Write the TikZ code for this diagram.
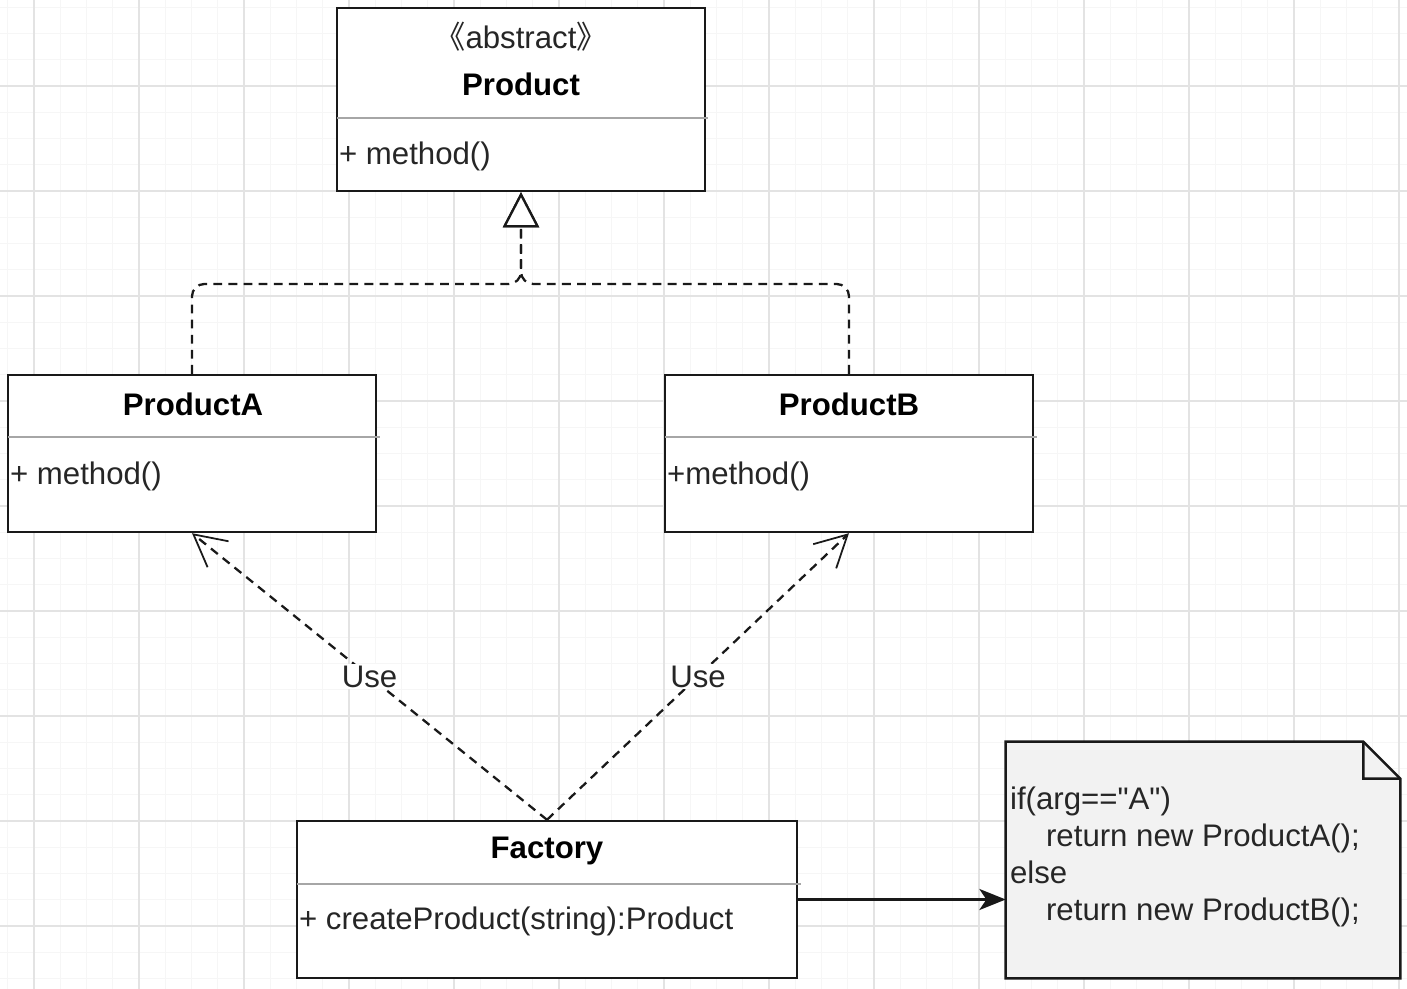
\documentclass[tikz,border=0pt]{standalone}
\usepackage{fontspec}
\setmainfont{Liberation Sans}
\newfontfamily\cjkfont{Noto Sans CJK SC}
\newfontfamily\notefont{Liberation Sans}
\usepackage{tikz}
\usetikzlibrary{arrows.meta, positioning}

\begin{document}
\begin{tikzpicture}[x=0.02cm, y=-0.02cm,
        font=\fontsize{17.75}{21}\selectfont,
        gridminor/.style={draw=black!3.5, line width=0.5pt},
        gridmajor/.style={draw=black!11, line width=0.7pt},
        umlbox/.style={draw=black!90, line width=1.4pt, fill=white, inner sep=0pt},
        title/.style={font=\fontsize{17.75}{21}\selectfont\bfseries, text=black, inner sep=1pt},
        member/.style={anchor=west, inner sep=1pt, text=black!85},
        divider/.style={draw=black!35, line width=1.2pt},
        realize/.style={draw=black!90, line width=1.3pt, dash pattern=on 5pt off 3.6pt, rounded corners=7pt,
            -{Triangle[open, fill=white, length=20pt, width=20.5pt, line width=1.3pt]}},
        uses/.style={draw=black!90, line width=1.3pt, dash pattern=on 5pt off 3.6pt,
            -{Straight Barb[length=18pt, width=19pt, line width=1pt]}},
        uselabel/.style={fill=white, inner sep=1pt, text=black!85},
        notebox/.style={minimum width=7.88cm, minimum height=4.72cm, inner sep=0pt},
        notetext/.style={align=left, anchor=west, inner sep=1pt, text=black!85,
            font=\notefont\fontsize{17.75}{21}\selectfont}
    ]
    \useasboundingbox (0,0) rectangle (1407,989);
    \fill[white] (0,0) rectangle (1407,989);

    % Background grid
    \foreach \k in {-1,...,52}
        \draw[gridminor] ({34+26.25*\k},0) -- ({34+26.25*\k},989);
    \foreach \k in {-3,...,34}
        \draw[gridminor] (0,{86+26.25*\k}) -- (1407,{86+26.25*\k});
    \foreach \k in {0,...,13}
        \draw[gridmajor] ({34+105*\k},0) -- ({34+105*\k},989);
    \foreach \k in {0,...,8}
        \draw[gridmajor] (0,{86+105*\k}) -- (1407,{86+105*\k});

    % Abstract class
    \node[umlbox, minimum width=7.36cm, minimum height=3.66cm] (prod) at (521,99.5) {};
    \node[inner sep=1pt, text=black!85] (prodst) at (521,37) {{\cjkfont 《}abstract{\cjkfont 》}};
    \node[title] (prodname) at (521,84) {Product};
    \draw[divider] (337,118) -- (708,118);
    \node[member] (prodm) at (337,156) {+ method()};

    % Concrete products
    \node[umlbox, minimum width=7.36cm, minimum height=3.14cm] (pa) at (192,453.5) {};
    \node[title] (paname) at (193,404) {ProductA};
    \draw[divider] (8,437) -- (380,437);
    \node[member] (pam) at (8,476) {+ method()};

    \node[umlbox, minimum width=7.36cm, minimum height=3.14cm] (pb) at (849,453.5) {};
    \node[title] (pbname) at (849,404) {ProductB};
    \draw[divider] (665,437) -- (1037,437);
    \node[member] (pbm) at (665,476) {+method()};

    % Factory
    \node[umlbox, minimum width=10cm, minimum height=3.14cm] (fac) at (547,899.5) {};
    \node[title] (facname) at (547,851) {Factory};
    \draw[divider] (297,884) -- (801,884);
    \node[member] (facm) at (297,921) {+ createProduct(string):Product};

    % Note
    \node[notebox] (note) at (1203,860) {};
    \draw[draw=black!90, line width=1.4pt, fill=black!5]
        (note.north west) -- ([xshift=-0.74cm]note.north east) -- ([yshift=-0.74cm]note.north east)
        -- (note.south east) -- (note.south west) -- cycle;
    \draw[draw=black!90, line width=1.4pt]
        ([xshift=-0.74cm]note.north east) -- ++(0,37) -- ([yshift=-0.74cm]note.north east);
    \node[notetext] (code) at (1008,857) {if(arg=="A")\\\hspace*{0.72cm}return new ProductA();\\else\\\hspace*{0.72cm}return new ProductB();};

    % Realization
    \coordinate (join) at (521,284);
    \draw[realize] (pa.north) |- (join) -- (prod.south);
    \draw[realize] (pb.north) |- (join) -- (prod.south);

    % Dependencies
    \draw[uses] (fac.north) -- node[uselabel, pos=0.5] (usea) {Use} (pa.south);
    \draw[uses] (fac.north) -- node[uselabel, pos=0.5] (useb) {Use} (pb.south);

    % Factory to note
    \draw[draw=black!90, line width=1.4pt, -{Stealth[length=15pt, width=12pt, inset=4pt]}]
        (fac.east) -- (fac.east -| note.west);
\end{tikzpicture}
\end{document}
